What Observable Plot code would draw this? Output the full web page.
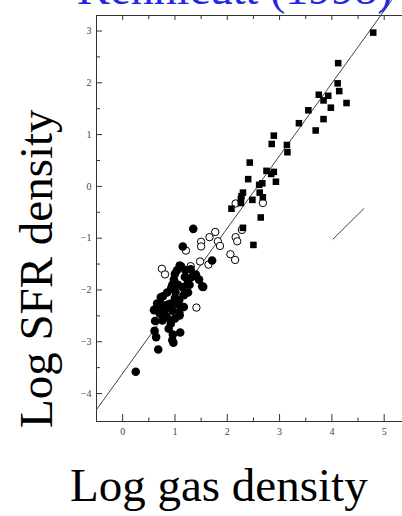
<!DOCTYPE html>
<html>
<head>
<meta charset="utf-8">
<script src="https://cdn.jsdelivr.net/npm/d3@7"></script>
<script src="https://cdn.jsdelivr.net/npm/@observablehq/plot@0.6"></script>
<style>
  html, body { margin: 0; padding: 0; background: #fff; }
  #wrap { position: relative; width: 402px; height: 516px; overflow: hidden; }
  #chart { position: absolute; left: 0; top: 0; }
  .lbl { position: absolute; white-space: nowrap; font-family: "Liberation Serif", "Times New Roman", serif; line-height: 1; }
  #title { left: 77px; top: -34px; font-size: 46px; color: #2626e6; }
  #xlabel { left: 70px; top: 462px; font-size: 47px; color: #000; }
  #ylabel { left: 13px; top: 428px; font-size: 47px; color: #000; transform-origin: 0 0; transform: rotate(-90deg); }
</style>
</head>
<body>
<div id="wrap">
  <div id="chart"></div>
  <div class="lbl" id="title">Kennicutt (1998)</div>
  <div class="lbl" id="ylabel">Log SFR density</div>
  <div class="lbl" id="xlabel">Log gas density</div>
</div>
<script>
// Normal disks (filled circles)
const filledX = [1.35,1.15,1.71,1.09,1.00,1.19,1.40,1.46,1.28,1.54,1.06,0.93,0.77,1.01,1.17,0.71,0.61,0.87,1.05,1.17,0.71,0.84,1.09,0.92,0.61,0.64,0.96,1.10,0.97,0.68,0.25,1.04,1.24,1.52,0.73,0.66,0.92,1.08,0.60,0.79,1.08,0.92,0.76,0.95,1.12,1.20,0.98,1.32,0.85,1.00,1.25,0.82,0.95,0.70,1.00,0.88,0.80,1.15,0.95,1.30,0.62];
const filledY = [-0.82,-1.16,-1.43,-1.53,-1.69,-1.75,-1.70,-1.80,-1.90,-1.94,-1.90,-1.96,-2.12,-2.04,-2.10,-2.25,-2.38,-2.28,-2.28,-2.33,-2.46,-2.52,-2.49,-2.65,-2.79,-2.91,-2.86,-2.82,-3.02,-3.15,-3.58,-1.62,-1.88,-1.93,-2.14,-2.26,-2.26,-2.20,-2.39,-2.46,-2.43,-2.59,-2.59,-2.97,-1.55,-1.62,-1.80,-1.75,-2.05,-2.15,-2.05,-2.35,-2.40,-2.35,-2.55,-2.75,-2.30,-1.95,-1.90,-1.60,-2.60];
// Circumnuclear regions (open circles)
const openX = [2.68,2.16,2.28,1.77,1.66,2.16,2.19,1.50,1.82,1.86,1.50,1.21,2.06,2.15,1.48,1.64,1.30,0.75,0.81,1.41];
const openY = [-0.32,-0.33,-0.84,-0.88,-0.98,-0.98,-1.06,-1.07,-1.06,-1.15,-1.16,-1.24,-1.31,-1.42,-1.45,-1.51,-1.54,-1.59,-1.70,-2.34];
// Starbursts (filled squares)
const squareX = [4.79,4.12,4.11,4.14,4.28,3.75,3.93,3.84,3.98,3.55,3.84,3.37,3.69,2.89,2.85,3.14,3.15,2.43,2.40,2.75,2.84,2.89,2.93,2.67,2.61,2.30,2.27,2.62,2.68,2.48,2.26,2.08,2.64,2.30,2.50,2.26];
const squareY = [2.97,2.38,1.99,1.84,1.61,1.77,1.75,1.66,1.52,1.47,1.30,1.22,1.08,0.98,0.82,0.80,0.66,0.46,0.14,0.30,0.24,0.28,0.09,0.06,0.03,-0.12,-0.19,-0.12,-0.21,-0.26,-0.32,-0.43,-0.60,-0.80,-1.13,-0.25];
// Schmidt law fit line and slope-1 reference segment (end points)
const fitX = [-0.5, 5.14];
const fitY = [-4.31, 3.59];
const refX = [4.02, 4.61];
const refY = [-1.02, -0.43];
// Axis ticks
const xMajor = [0,1,2,3,4,5];
const xMinor = [0.5,1.5,2.5,3.5,4.5];
const yMajor = [-4,-3,-2,-1,0,1,2,3];
const yMinor = [-3.5,-2.5,-1.5,-0.5,0.5,1.5,2.5];
const xDomain = [-0.5, 5.35];
const yDomain = [-4.54, 3.3];

const pts = (xs, ys) => xs.map((x, i) => ({x, y: ys[i]}));
const filled = pts(filledX, filledY);
const open = pts(openX, openY);
const squares = pts(squareX, squareY);
const fit = pts(fitX, fitY);
const ref = pts(refX, refY);

const W = 402, H = 450, mT = 15, mB = 29, mL = 96, mR = 0;
const innerH = H - mT - mB, innerW = W - mL - mR;
const axisColor = "#333";
const fmt = d => d < 0 ? "\u2212" + Math.abs(d) : String(d);

const plot = Plot.plot({
  width: W, height: H,
  marginTop: mT, marginBottom: mB, marginLeft: mL, marginRight: mR,
  x: {domain: xDomain, axis: null},
  y: {domain: yDomain, axis: null},
  style: {background: "white", overflow: "visible"},
  marks: [
    Plot.ruleX([xDomain[0]], {stroke: axisColor, strokeWidth: 1}),
    Plot.ruleY([yDomain[0], yDomain[1]], {stroke: axisColor, strokeWidth: 1}),
    // bottom ticks (inward)
    Plot.tickX(xMajor, {x: d => d, insetTop: innerH - 7, stroke: axisColor}),
    Plot.tickX(xMinor, {x: d => d, insetTop: innerH - 3.5, stroke: axisColor}),
    // top ticks (inward)
    Plot.tickX(xMajor, {x: d => d, insetBottom: innerH - 5, stroke: axisColor}),
    Plot.tickX(xMinor, {x: d => d, insetBottom: innerH - 4, stroke: axisColor}),
    // left ticks (inward)
    Plot.tickY(yMajor, {y: d => d, insetRight: innerW - 6, stroke: axisColor}),
    Plot.tickY(yMinor, {y: d => d, insetRight: innerW - 4, stroke: axisColor}),
    // tick labels
    Plot.text(xMajor, {x: d => d, frameAnchor: "bottom", dy: 13, text: fmt, fontSize: 10, fill: "#444", fontFamily: "Liberation Serif"}),
    Plot.text(yMajor, {y: d => d, frameAnchor: "left", dx: -5, text: fmt, textAnchor: "end", fontSize: 10, fill: "#444", fontFamily: "Liberation Serif"}),
    // lines
    Plot.line(fit, {x: "x", y: "y", stroke: "#444", strokeWidth: 1}),
    Plot.line(ref, {x: "x", y: "y", stroke: "#444", strokeWidth: 1}),
    // points
    Plot.dot(open, {x: "x", y: "y", r: 3.7, fill: "white", stroke: "black", strokeWidth: 1}),
    Plot.dot(squares, {x: "x", y: "y", symbol: "square", r: 3.7, fill: "black", stroke: "none"}),
    Plot.dot(filled, {x: "x", y: "y", r: 4.3, fill: "black", stroke: "none"})
  ]
});
document.getElementById("chart").appendChild(plot);
</script>
</body>
</html>
